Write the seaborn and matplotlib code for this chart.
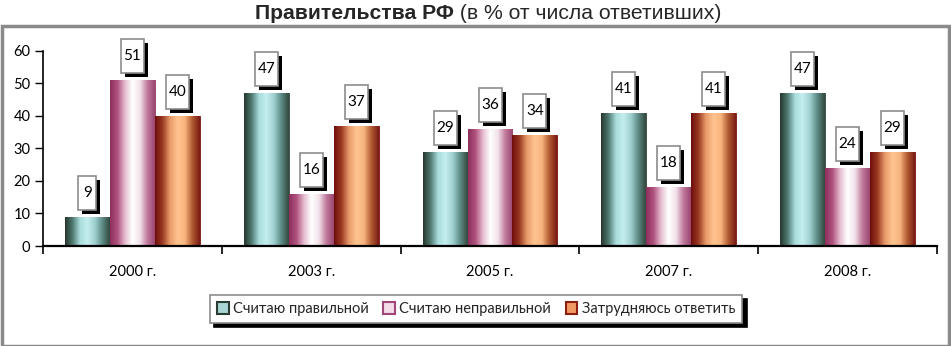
import numpy as np
import pandas as pd
import seaborn as sns
import matplotlib.pyplot as plt
from matplotlib.colors import LinearSegmentedColormap
from matplotlib.patches import Patch, Rectangle


# ------------------------------------------------------------
# Данные
# ------------------------------------------------------------
years = ['2000 г.', '2003 г.', '2005 г.', '2007 г.', '2008 г.']
series = ['Считаю правильной', 'Считаю неправильной', 'Затрудняюсь ответить']
agree = [9, 47, 29, 41, 47]
disagree = [51, 16, 36, 18, 24]
unsure = [40, 37, 34, 41, 29]

# градиенты столбцов (слева направо)
gradients = [
    ['#26362c', '#4f7a70', '#a9dcdc', '#c4eef0', '#9fd0d0', '#5c8a84', '#34483e'],
    ['#8e2f5e', '#b0527e', '#e6bcd0', '#ffffff', '#f2e2ea', '#c07a9c', '#9a4670'],
    ['#6e0c0c', '#9a3a22', '#e89a6a', '#ffc490', '#f8b47e', '#b05a30', '#7a1a14'],
]
legend_face = ['#a8d6d4', '#f4dce8', '#f29a64']
legend_edge = ['#2b3d33', '#a0467a', '#8a1e12']
bar_edge = ['#2b3d33', '#8e2f5e', '#6e0c0c']

df = pd.DataFrame({
    'year': years * 3,
    'series': [s for s in series for _ in years],
    'value': agree + disagree + unsure,
})

# ------------------------------------------------------------
# Рисунок
# ------------------------------------------------------------
sns.set_theme(style='white')
plt.rcParams['font.family'] = ['Lato', 'DejaVu Sans']

fig = plt.figure(figsize=(9.51, 3.46), dpi=100)
ax = fig.add_axes([43 / 951, 100 / 346, 894 / 951, 195.3 / 346])

sns.barplot(data=df, x='year', y='value', hue='series', hue_order=series,
            palette=legend_face, width=0.755, legend=False, ax=ax,
            saturation=1, errorbar=None)

# градиентная заливка + подписи в рамках
px_x = 1 / 178.8   # доля категории на 1 пиксель
px_y = 60 / 195.3  # единиц на 1 пиксель
for i, cont in enumerate(ax.containers):
    cmap = LinearSegmentedColormap.from_list('g%d' % i, gradients[i])
    grad = np.linspace(0, 1, 256).reshape(1, -1)
    for bar in cont:
        x0, w, h = bar.get_x(), bar.get_width(), bar.get_height()
        bar.set_edgecolor(bar_edge[i])
        bar.set_linewidth(0.6)
        im = ax.imshow(grad, cmap=cmap, aspect='auto', extent=[x0, x0 + w, 0, h],
                       zorder=bar.get_zorder() + 0.1)
        im.set_clip_path(bar)

        # рамка с тенью
        cx = x0 + w / 2
        label = '%d' % h
        bw = (18 if len(label) == 1 else 23) * px_x
        bh = 34 * px_y
        by = h + 7 * px_y
        ax.add_patch(Rectangle((cx - bw / 2 + 4 * px_x, by - 4 * px_y), bw, bh,
                               facecolor='black', edgecolor='none', zorder=5,
                               clip_on=False))
        ax.add_patch(Rectangle((cx - bw / 2, by), bw, bh, facecolor='white',
                               edgecolor='#8c8c8c', linewidth=1.2, zorder=6,
                               clip_on=False))
        ax.text(cx, by + bh / 2, label, ha='center', va='center', fontsize=11,
                color='black', zorder=7)

ax.set_xlim(-0.5, 4.5)
ax.set_ylim(0, 60)

# оси
sns.despine(ax=ax)
ax.spines['left'].set_color('black')
ax.spines['bottom'].set_color('black')
ax.spines['left'].set_linewidth(1.2)
ax.spines['bottom'].set_linewidth(1.6)
ax.set_xlabel('')
ax.set_ylabel('')
ax.set_yticks(range(0, 61, 10))
ax.tick_params(axis='y', left=True, length=6, width=1, color='black',
               labelsize=10.5, pad=3, labelcolor='black')
ax.tick_params(axis='x', which='major', bottom=False, length=0, pad=14,
               labelsize=10.5, labelcolor='black')
ax.set_xticks(np.arange(-0.5, 5, 1), minor=True)
ax.tick_params(axis='x', which='minor', bottom=True, length=6, width=1.2,
               color='black')
ax.grid(False)

# легенда
handles = [Patch(facecolor=legend_face[i], edgecolor=legend_edge[i],
                 linewidth=1.5, label=series[i]) for i in range(3)]
leg = fig.legend(handles=handles, loc='center', bbox_to_anchor=(476 / 951, 1 - 309 / 346),
                 ncol=3, fontsize=10.5, frameon=True, fancybox=False,
                 edgecolor='#8c8c8c', handlelength=0.8, handleheight=0.8,
                 handletextpad=0.3, columnspacing=1.0, borderpad=0.5,
                 shadow={'color': 'black', 'alpha': 1, 'ox': 3, 'oy': -3})
leg.get_frame().set_linewidth(1.2)

# заголовок (обрезан сверху)
title_font = ['Liberation Sans Narrow', 'Liberation Sans']
t1 = fig.text(255 / 951, 1 - 19 / 346, 'Правительства РФ', fontsize=15.2,
              fontweight='bold', ha='left', va='baseline', family=title_font)
ax.annotate(' (в % от числа ответивших)', xy=(1, 0), xycoords=t1,
            ha='left', va='bottom', fontsize=15.2, family=title_font,
            annotation_clip=False)

# внешняя рамка диаграммы
fig.patches.append(Rectangle((1.5 / 951, 0), 947 / 951, 1 - 26 / 346,
                             transform=fig.transFigure, fill=False,
                             edgecolor='#8a8a8a', linewidth=2.5))

fig.savefig('out.png', dpi=100)
